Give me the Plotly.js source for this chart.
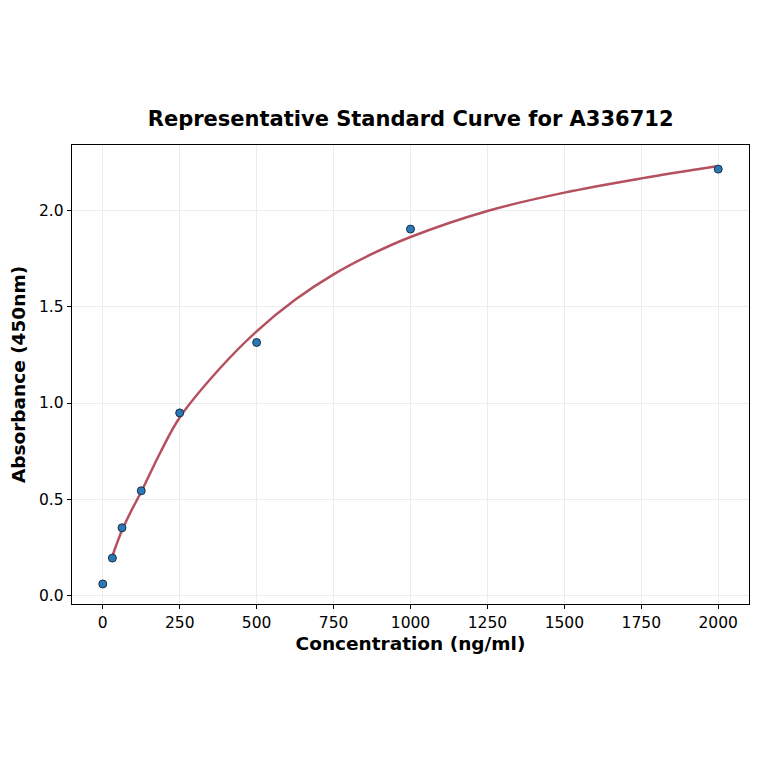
<!DOCTYPE html>
<html>
<head>
<meta charset="utf-8">
<script src="https://cdn.plot.ly/plotly-3.0.1.min.js"></script>
<style>
  body { margin: 0; background: #fff; }
  #chart { width: 764px; height: 764px; }
</style>
</head>
<body>
<div id="chart"></div>
<script>
// standard points
let conc = [0, 31.25, 62.5, 125, 250, 500, 1000, 2000];
let absorb = [0.062, 0.196, 0.353, 0.545, 0.949, 1.314, 1.902, 2.213];

// fitted curve, sampled by eye along the red line
let fitConc = [31.25, 62.5, 93.75, 125, 187.5, 250, 375, 500, 625, 750, 875, 1000, 1250, 1500, 1750, 2000];
let fitAbs = [0.207, 0.34, 0.445, 0.54, 0.745, 0.925, 1.17, 1.372, 1.535, 1.667, 1.773, 1.861, 1.996, 2.091, 2.165, 2.229];

let xTicks = [0, 250, 500, 750, 1000, 1250, 1500, 1750, 2000];
let yTicks = [0.0, 0.5, 1.0, 1.5, 2.0];

let fontFam = 'DejaVu Sans, Arial, sans-serif';

let curve = {
    x: fitConc,
    y: fitAbs,
    type: 'scatter',
    mode: 'lines',
    line: { color: '#b5505f', width: 2.5, shape: 'spline', smoothing: 1.0 },
    hoverinfo: 'skip'
};

let pts = {
    x: conc,
    y: absorb,
    type: 'scatter',
    mode: 'markers',
    marker: { color: '#2a78b5', size: 8, line: { color: '#1d2f45', width: 1 } }
};

let axisBase = {
    showline: true,
    linecolor: '#000',
    linewidth: 1.3,
    mirror: true,
    ticks: 'outside',
    ticklen: 4,
    tickwidth: 1,
    tickcolor: '#000',
    showgrid: true,
    gridcolor: '#ececec',
    gridwidth: 1,
    zeroline: false,
    tickfont: { family: fontFam, size: 15.5, color: '#000' }
};

let layout = {
    width: 764,
    height: 764,
    paper_bgcolor: '#fff',
    plot_bgcolor: '#fff',
    showlegend: false,
    margin: { l: 72, r: 15, t: 145, b: 160 },
    title: {
        text: '<b>Representative Standard Curve for A336712</b>',
        font: { family: fontFam, size: 21, color: '#000' },
        x: 0.5375, xanchor: 'center',
        y: 0.845, yanchor: 'middle'
    },
    xaxis: Object.assign({}, axisBase, {
        range: [-100, 2100],
        tickvals: xTicks,
        ticktext: xTicks.map(String),
        title: { text: '<b>Concentration (ng/ml)</b>', font: { family: fontFam, size: 18.5, color: '#000' }, standoff: 6 }
    }),
    yaxis: Object.assign({}, axisBase, {
        range: [-0.042, 2.338],
        tickvals: yTicks,
        ticktext: yTicks.map(v => v.toFixed(1)),
        title: { text: '<b>Absorbance (450nm)</b>', font: { family: fontFam, size: 18.5, color: '#000' }, standoff: 8 }
    })
};

Plotly.newPlot('chart', [curve, pts], layout, { displayModeBar: false, staticPlot: true });
</script>
</body>
</html>
